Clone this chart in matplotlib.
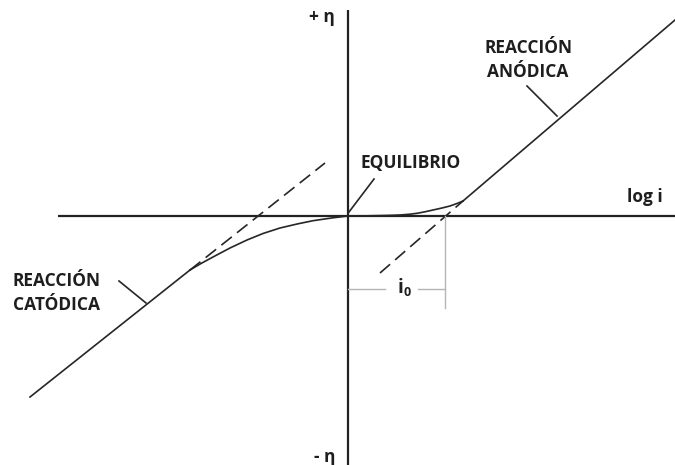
import matplotlib
matplotlib.use("Agg")
import matplotlib.pyplot as plt

# Data (x = log i, y = overpotential eta), arbitrary units, origin = equilibrium
anodic_line_x = [1.15, 3.27]
anodic_line_y = [0.15, 1.96]
anodic_dash_x = [0.32, 1.15]
anodic_dash_y = [-0.57, 0.15]
anodic_curve_x = [0.0, 0.20, 0.40, 0.52, 0.62, 0.69, 0.77, 0.85, 0.94, 1.02, 1.09, 1.15]
anodic_curve_y = [0.0, 0.002, 0.006, 0.010, 0.018, 0.027, 0.042, 0.060, 0.080, 0.100, 0.125, 0.15]

cathodic_line_x = [-3.18, -1.58]
cathodic_line_y = [-1.81, -0.54]
cathodic_dash_x = [-1.58, -0.23]
cathodic_dash_y = [-0.54, 0.53]
cathodic_curve_x = [0.0, -0.15, -0.35, -0.50, -0.68, -0.85, -1.01, -1.18, -1.35, -1.47, -1.58]
cathodic_curve_y = [0.0, -0.018, -0.047, -0.078, -0.12, -0.175, -0.24, -0.32, -0.41, -0.475, -0.54]

i0_x = 0.97

fig = plt.figure(figsize=(6.75, 4.65), dpi=100)
ax = fig.add_axes([0, 0, 1, 1])
ax.set_xlim(-3.48, 3.27)
ax.set_ylim(-2.49, 2.16)
ax.axis("off")

# axes lines
ax.plot([-2.90, 3.27], [0, 0], color="#222222", lw=1.6, solid_capstyle="butt")
ax.plot([0, 0], [-2.49, 2.06], color="#222222", lw=1.6, solid_capstyle="butt")

lc = "#262626"
lw = 1.2
ax.plot(anodic_line_x, anodic_line_y, color=lc, lw=lw)
ax.plot(anodic_dash_x, anodic_dash_y, color=lc, lw=lw, dashes=(8, 4))
ax.plot(anodic_curve_x, anodic_curve_y, color=lc, lw=lw)
ax.plot(cathodic_line_x, cathodic_line_y, color=lc, lw=lw)
ax.plot(cathodic_dash_x, cathodic_dash_y, color=lc, lw=lw, dashes=(8, 4))
ax.plot(cathodic_curve_x, cathodic_curve_y, color=lc, lw=lw)

# i0 bracket
gc = "#b5b5b5"
ax.plot([i0_x, i0_x], [0, -0.92], color=gc, lw=1.0)
ax.plot([0, 0.37], [-0.73, -0.73], color=gc, lw=1.0)
ax.plot([0.70, i0_x], [-0.73, -0.73], color=gc, lw=1.0)

fam = ["Open Sans", "DejaVu Sans"]
tc = "#1e1e1e"
fs = 12.5
ax.text(0.555, -0.72, "i", fontsize=fs + 1, fontweight="bold", family=fam, color=tc,
        ha="right", va="center")
ax.text(0.56, -0.765, "0", fontsize=fs * 0.72, fontweight="bold", family=fam, color=tc,
        ha="left", va="center")

ax.text(-0.13, 1.99, "+ η", fontsize=fs, fontweight="bold", family=fam,
        color=tc, ha="right", va="center")
ax.text(-0.12, -2.41, "- η", fontsize=fs, fontweight="bold", family=fam,
        color=tc, ha="right", va="center")
ax.text(2.97, 0.19, "log i", fontsize=fs, fontweight="bold", family=fam, color=tc,
        ha="center", va="center")

ax.text(0.13, 0.53, "EQUILIBRIO", fontsize=fs, fontweight="bold", family=fam, color=tc,
        ha="left", va="center")
ax.plot([0.26, 0.01], [0.37, 0.04], color=lc, lw=lw)

ax.text(1.80, 1.56, "REACCIÓN\nANÓDICA", fontsize=fs, fontweight="bold", family=fam,
        color=tc, ha="center", va="center", linespacing=1.45)
ax.plot([1.79, 2.09], [1.30, 1.00], color=lc, lw=lw)

ax.text(-3.35, -0.77, "REACCIÓN\nCATÓDICA", fontsize=fs, fontweight="bold", family=fam,
        color=tc, ha="left", va="center", linespacing=1.45)
ax.plot([-2.29, -2.02], [-0.65, -0.87], color=lc, lw=lw)

fig.savefig("out.png", dpi=100)
